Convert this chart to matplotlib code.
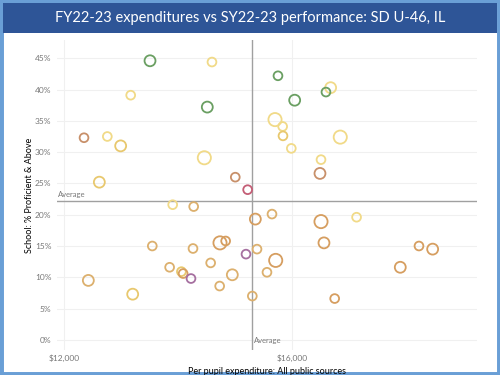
import matplotlib
matplotlib.use('Agg')
import matplotlib.pyplot as plt
from matplotlib.patches import Rectangle
from matplotlib.ticker import FuncFormatter

# per pupil expenditure ($) and % proficient & above, one entry per school
spend = [13509, 14596, 13170, 14514, 12351, 12760, 12994, 14462, 12620, 15005,
         15222, 13907, 14275, 13549, 14263, 14737, 14836, 15193, 13853, 14060,
         14090, 14228, 14573, 14953, 14731, 12427, 13205, 15304, 15357, 15649,
         15386, 15714, 15561, 16509, 17133, 16561, 18228, 18468, 17900, 16749,
         15754, 16678, 16596, 16047, 15702, 15836, 15842, 16847, 15988, 16509,
         16491]
prof = [44.6, 44.4, 39.1, 37.2, 32.3, 32.5, 31.0, 29.1, 25.2, 26.0,
        24.0, 21.6, 21.3, 15.0, 14.6, 15.5, 15.8, 13.7, 11.6, 10.9,
        10.6, 9.8, 12.3, 10.4, 8.6, 9.5, 7.3, 7.0, 19.3, 20.1,
        14.5, 12.7, 10.8, 18.9, 19.6, 15.5, 15.0, 14.5, 11.6, 6.6,
        42.2, 40.3, 39.6, 38.3, 35.2, 34.1, 32.6, 32.4, 30.6, 28.8,
        26.6]
# bubble size class (1 small .. 3 large)
size_cls = [2, 1, 1, 2, 1, 1, 2, 3, 2, 1,
            1, 1, 1, 1, 1, 3, 1, 1, 1, 1,
            1, 1, 1, 2, 1, 2, 2, 1, 2, 1,
            1, 3, 1, 3, 1, 2, 1, 2, 2, 1,
            1, 2, 1, 2, 3, 1, 1, 3, 1, 1,
            2]
# colour group
grp = ['G', 'Y', 'Y', 'G', 'B', 'Y', 'D', 'Y', 'D', 'B',
       'R', 'Y', 'T', 'T', 'T', 'O', 'O', 'P', 'T', 'D',
       'O', 'P', 'T', 'T', 'T', 'T', 'D', 'T', 'O', 'T',
       'T', 'O', 'T', 'O', 'Y', 'O', 'O', 'O', 'O', 'O',
       'G', 'Y', 'G', 'G', 'Y', 'Y', 'D', 'Y', 'Y', 'Y',
       'B']

avg_spend = 15300
avg_prof = 22.2

colors = {'G': '#6a9f62', 'Y': '#f1da88', 'D': '#e8c86e', 'T': '#dcb06e',
          'O': '#d69e60', 'B': '#c8906a', 'P': '#a670a0', 'R': '#c45e76'}
sizes = {1: 40, 2: 62, 3: 90}

fig = plt.figure(figsize=(5, 3.75), dpi=100)
plt.rcParams['font.family'] = ['Lato', 'DejaVu Sans']

# frame + title bar
fig.patches.append(Rectangle((0, 0), 1, 1, transform=fig.transFigure,
                             facecolor='white', edgecolor='#6a9fd6', linewidth=5, zorder=-2))
fig.patches.append(Rectangle((0.006, 0.912), 0.988, 0.08, transform=fig.transFigure,
                             facecolor='#2e5597', edgecolor='none', zorder=-1))
fig.text(0.5, 0.952, 'FY22-23 expenditures vs SY22-23 performance: SD U-46, IL',
         color='white', fontsize=10.5, ha='center', va='center')

ax = fig.add_axes([0.114, 0.067, 0.84, 0.826])
ax.set_xlim(11877, 19246)
ax.set_ylim(-1.6, 47.9)
for s in ax.spines.values():
    s.set_visible(False)

ax.set_yticks(range(0, 50, 5))
ax.yaxis.set_major_formatter(FuncFormatter(lambda v, p: f'{v:.0f}%'))
ax.set_xticks([12000, 16000])
ax.xaxis.set_major_formatter(FuncFormatter(lambda v, p: f'${v:,.0f}'))
ax.tick_params(axis='y', length=0, labelsize=6, labelcolor='#777777', pad=4)
ax.tick_params(axis='x', length=0, labelsize=6, labelcolor='#777777', pad=3)
ax.grid(True, color='#f0f0f0', linewidth=0.8)
ax.set_axisbelow(True)

ax.axhline(avg_prof, color='#a0a0a0', linewidth=1)
ax.axvline(avg_spend, color='#a0a0a0', linewidth=1)
ax.text(11890, avg_prof + 0.4, 'Average', fontsize=5.5, color='#777777', va='bottom')
ax.text(avg_spend + 40, -0.6, 'Average', fontsize=5.5, color='#777777', va='bottom')

ax.scatter(spend, prof, s=[sizes[c] for c in size_cls], facecolors='none',
           edgecolors=[colors[g] for g in grp], linewidths=1.3, zorder=3)

ax.set_ylabel('School: % Proficient & Above', fontsize=6.5, labelpad=1)
ax.set_xlabel('Per pupil expenditure: All public sources', fontsize=6.5, labelpad=4)

fig.savefig('out.png', dpi=100)
